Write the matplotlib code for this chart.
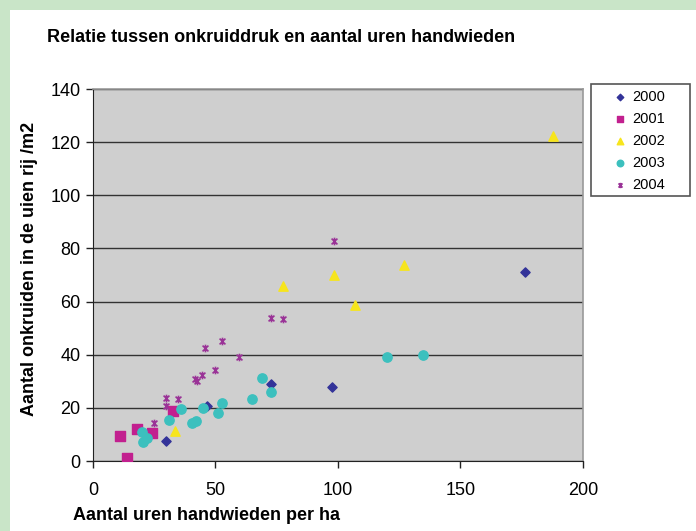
import matplotlib.pyplot as plt
from matplotlib.path import Path
import matplotlib.patches as mpatches

plt.rcParams['font.family'] = ['Liberation Sans', 'DejaVu Sans']

# --- DATA ---
x_2000 = [29.9, 46.7, 72.7, 97.7, 176.5]
y_2000 = [7.5, 20.8, 29.0, 28.0, 71.3]

x_2001 = [10.9, 13.7, 18.0, 24.0, 32.7]
y_2001 = [9.5, 1.0, 12.0, 10.4, 18.8]

x_2002 = [33.6, 77.7, 98.5, 106.9, 126.8, 187.6]
y_2002 = [11.3, 66.0, 70.0, 58.8, 73.6, 122.4]

x_2003 = [19.9, 20.5, 21.9, 30.9, 35.9, 40.5, 42.0, 44.9, 50.9, 52.7, 64.8, 68.9, 72.7, 120.0, 134.8]
y_2003 = [10.8, 7.3, 8.8, 15.4, 19.7, 14.2, 15.1, 20.1, 18.1, 22.0, 23.2, 31.4, 26.1, 39.0, 39.9]

x_2004 = [24.8, 29.9, 29.9, 34.6, 41.8, 42.6, 44.6, 45.6, 49.8, 52.7, 59.6, 72.7, 77.7, 98.5]
y_2004 = [14.4, 20.8, 23.8, 23.3, 30.7, 30.1, 32.4, 42.7, 34.1, 45.2, 39.1, 53.8, 53.3, 82.9]

labels = ['2000', '2001', '2002', '2003', '2004']

# asterisk marker zoals in Excel: kruis met verticale streep
star = Path([(-1, -1), (1, 1), (-1, 1), (1, -1), (0, -1.3), (0, 1.3)],
            [Path.MOVETO, Path.LINETO, Path.MOVETO, Path.LINETO, Path.MOVETO, Path.LINETO])

W, H = 696, 531
fig = plt.figure(figsize=(W / 100, H / 100), dpi=100)
fig.patch.set_facecolor('#C9E5C8')
fig.patches.append(mpatches.Rectangle((10 / W, 0), 1, 1 - 10 / H, transform=fig.transFigure,
                                      facecolor='white', edgecolor='none', zorder=-10))

ax = fig.add_axes([93 / W, 70 / H, 490 / W, 372 / H])
ax.set_facecolor('#CFCFCF')

ax.scatter(x_2000, y_2000, marker='D', s=22, color='#333399', zorder=3, label=labels[0])
ax.scatter(x_2001, y_2001, marker='s', s=45, color='#C2208F', zorder=3, label=labels[1])
ax.scatter(x_2002, y_2002, marker='^', s=45, color='#F7E51C', zorder=3, label=labels[2])
ax.scatter(x_2003, y_2003, marker='o', s=45, color='#3CC0BE', zorder=3, label=labels[3])
ax.scatter(x_2004, y_2004, marker=star, s=30, color='#9A3397', linewidths=1.2, zorder=3, label=labels[4])

ax.set_xlim(0, 200)
ax.set_ylim(0, 140)
ax.set_xticks([0, 50, 100, 150, 200])
ax.set_yticks(range(0, 141, 20))
ax.yaxis.grid(True, color='#333333', linewidth=1)
ax.set_axisbelow(True)

for s in ['top', 'right']:
    ax.spines[s].set_color('#999999')
    ax.spines[s].set_linewidth(1.2)
for s in ['left', 'bottom']:
    ax.spines[s].set_color('#222222')
ax.tick_params(axis='both', direction='out', length=5, width=1, color='#222222',
               labelsize=13, pad=4)
ax.tick_params(axis='x', pad=10)

ax.set_xlabel('Aantal uren handwieden per ha', fontsize=13, fontweight='bold')
ax.xaxis.set_label_coords(-20 / 490, -55 / 372)
ax.xaxis.label.set_horizontalalignment('left')
ax.xaxis.label.set_verticalalignment('center')
ax.set_ylabel('Aantal onkruiden in de uien rij /m2', fontsize=13, fontweight='bold')
ax.yaxis.set_label_coords(-63 / 490, 0.515)
ax.yaxis.label.set_verticalalignment('center')

fig.text(47 / W, 1 - 38 / H, 'Relatie tussen onkruiddruk en aantal uren handwieden',
         fontsize=13, fontweight='bold', va='center', ha='left')

# legenda met los kader (Excel-stijl, breed kader)
fig.patches.append(mpatches.Rectangle((591 / W, 1 - 196 / H), 99 / W, 112 / H, transform=fig.transFigure,
                                      facecolor='white', edgecolor='#555555', linewidth=1.2, zorder=5))
leg = fig.legend(loc='upper left', bbox_to_anchor=(602 / W, 1 - 84 / H), fontsize=10.5,
                 frameon=False, handlelength=1.6, handletextpad=0.1, labelspacing=0.55,
                 borderpad=0.4, borderaxespad=0, markerscale=0.7)
leg.set_zorder(6)

fig.savefig('out.png', dpi=100, facecolor=fig.get_facecolor())
